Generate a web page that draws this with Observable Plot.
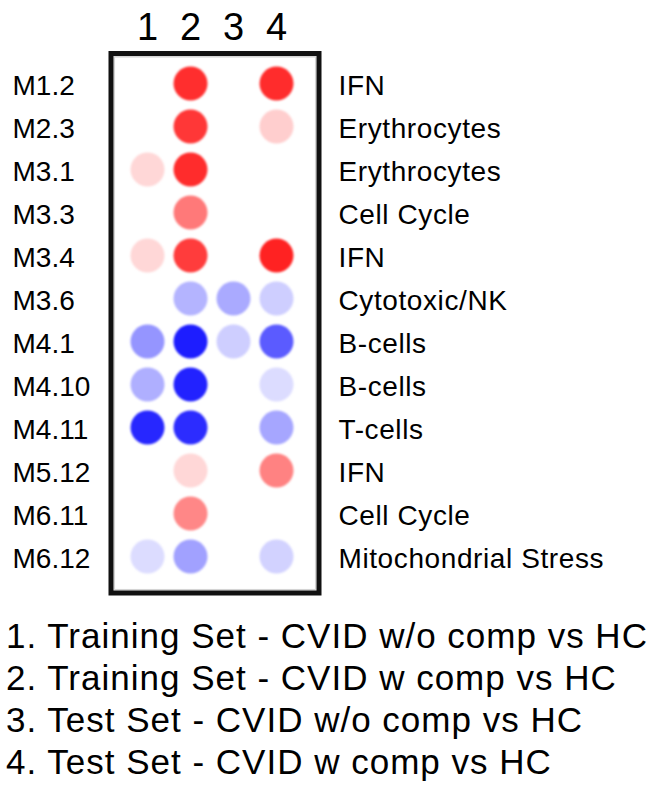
<!DOCTYPE html>
<html><head><meta charset="utf-8">
<script src="https://cdn.jsdelivr.net/npm/d3@7"></script>
<script src="https://cdn.jsdelivr.net/npm/@observablehq/plot@0.6"></script>
<style>
body{margin:0;background:#fff;font-family:"Liberation Sans",Arial,sans-serif;}
#chart svg g[aria-label="dot"]{filter:blur(1.3px);}
#chart svg g.fnlabels text{letter-spacing:0.6px;}
#legend{padding:15px 0 0 6px;font-size:35px;line-height:42px;letter-spacing:1px;color:#000;white-space:nowrap;}
</style></head><body><div id="chart"></div><div id="legend"></div>
<script>
const modules = ["M1.2","M2.3","M3.1","M3.3","M3.4","M3.6","M4.1","M4.10","M4.11","M5.12","M6.11","M6.12"];
const functions = ["IFN","Erythrocytes","Erythrocytes","Cell Cycle","IFN","Cytotoxic/NK","B-cells","B-cells","T-cells","IFN","Cell Cycle","Mitochondrial Stress"];
const columns = ["1","2","3","4"];
// signed module activity (red = up, blue = down)
const set1 = [0, 0, 0.17, 0, 0.17, 0, -0.45, -0.34, -0.92, 0, 0, -0.15];
const set2 = [0.89, 0.85, 0.9, 0.57, 0.83, -0.32, -0.96, -0.94, -0.9, 0.17, 0.51, -0.4];
const set3 = [0, 0, 0, 0, 0, -0.36, -0.21, 0, 0, 0, 0, 0];
const set4 = [0.9, 0.21, 0, 0, 0.94, -0.21, -0.7, -0.15, -0.38, 0.53, 0, -0.19];
const legendLabels = [
  "1. Training Set - CVID w/o comp vs HC",
  "2. Training Set - CVID w comp vs HC",
  "3. Test Set - CVID w/o comp vs HC",
  "4. Test Set - CVID w comp vs HC"
];
const sets = [set1, set2, set3, set4];
const data = modules.flatMap((m, i) => sets.map((s, j) => ({module: m, column: columns[j], value: s[i]}))).filter(d => d.value !== 0);
const labels = modules.map((m, i) => ({module: m, fn: functions[i]}));

const plot = Plot.plot({
  width: 653, height: 600,
  marginLeft: 110.5, marginRight: 334.5, marginTop: 53, marginBottom: 7.5,
  style: {fontFamily: '"Liberation Sans", Arial, sans-serif', background: "#fff", color: "#000"},
  x: {type: "point", domain: columns, range: [147, 276], padding: 0, axis: null},
  y: {type: "point", domain: modules, range: [79, 559], padding: 0, axis: null},
  color: {type: "linear", domain: [-1, 0, 1], range: ["#1414ff", "#ffffff", "#ff1414"], interpolate: "rgb"},
  marks: [
    Plot.frame({stroke: "#d4d4d4", strokeWidth: 1.5, inset: 3.3}),
    Plot.frame({stroke: "#111", strokeWidth: 5}),
    Plot.dot(data, {x: "column", y: "module", r: 17, fill: "value", stroke: null}),
    Plot.text(columns, {x: d => d, frameAnchor: "top", lineAnchor: "middle", dy: -26, fontSize: 38, fill: "#000"}),
    Plot.text(labels, {y: "module", text: "module", frameAnchor: "left", dx: -98.5, dy: 3, textAnchor: "start", fontSize: 28, fill: "#000"}),
    Plot.text(labels, {y: "module", text: "fn", frameAnchor: "right", dx: 19.5, dy: 3, textAnchor: "start", fontSize: 28, fill: "#000", className: "fnlabels"})
  ]
});
document.getElementById("chart").append(plot);
const lg = document.getElementById("legend");
legendLabels.forEach(t => { const d = document.createElement("div"); d.textContent = t; lg.append(d); });
</script></body></html>
